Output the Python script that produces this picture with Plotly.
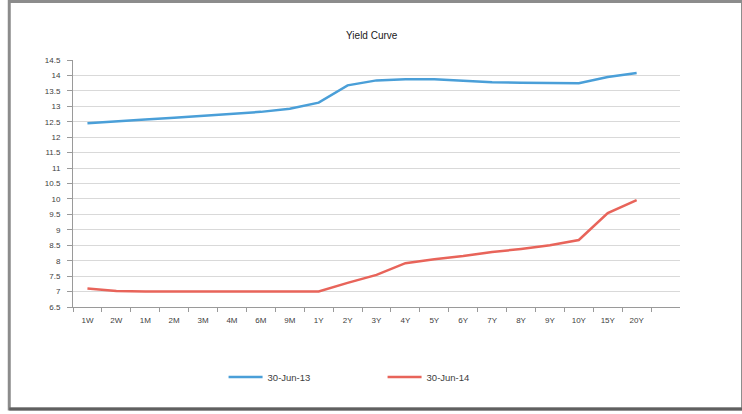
import plotly.graph_objects as go

tenors = ["1W", "2W", "1M", "2M", "3M", "4M", "6M", "9M", "1Y", "2Y", "3Y",
          "4Y", "5Y", "6Y", "7Y", "8Y", "9Y", "10Y", "15Y", "20Y"]
series_a_name = "30-Jun-13"
series_a = [12.45, 12.5, 12.57, 12.63, 12.7, 12.75, 12.82, 12.92, 13.12, 13.68, 13.84,
            13.88, 13.88, 13.83, 13.78, 13.76, 13.76, 13.75, 13.95, 14.08]
series_b_name = "30-Jun-14"
series_b = [7.1, 7.02, 7.0, 7.0, 7.0, 7.0, 7.0, 7.0, 7.0, 7.28, 7.54,
            7.92, 8.05, 8.15, 8.28, 8.38, 8.5, 8.67, 9.54, 9.96]
y_ticks = [6.5 + 0.5 * i for i in range(17)]

categories = tenors + [" "]

fig = go.Figure()
fig.add_trace(go.Scatter(x=tenors, y=series_a, mode="lines", name=series_a_name,
                         line=dict(color="#4A9FD8", width=2.5)))
fig.add_trace(go.Scatter(x=tenors, y=series_b, mode="lines", name=series_b_name,
                         line=dict(color="#E8645A", width=2.5)))

fig.update_layout(
    width=742, height=414,
    margin=dict(l=73, r=62, t=60, b=107),
    paper_bgcolor="white", plot_bgcolor="white",
    font=dict(family="Liberation Sans, Arial", size=8, color="#404040"),
    title=dict(text="Yield Curve", x=0.501, xanchor="center", y=1 - 35 / 414,
               yanchor="middle", font=dict(size=10, color="#202020")),
    legend=dict(orientation="h", x=0.51, xanchor="center", y=-0.283, yanchor="middle",
                font=dict(size=9.5), itemwidth=34, entrywidth=110, tracegroupgap=0),
    showlegend=True,
)
fig.update_xaxes(type="category", categoryorder="array", categoryarray=categories,
                 range=[-0.5, len(categories) - 0.5], tickvals=tenors,
                 showgrid=False, showline=True, linecolor="#9a9a9a", linewidth=1,
                 ticks="outside", ticklen=4, tickcolor="#9a9a9a", tickson="boundaries",
                 tickangle=0, tickfont=dict(size=8), ticklabelstandoff=5)
fig.update_yaxes(range=[6.5, 14.5], tickvals=y_ticks, showgrid=True,
                 gridcolor="#d9d9d9", gridwidth=1, showline=True, linecolor="#9a9a9a",
                 ticks="outside", ticklen=5, tickcolor="#9a9a9a", zeroline=False,
                 tickfont=dict(size=8), ticklabelstandoff=5)

fig.add_shape(type="rect", xref="paper", yref="paper", x0=-0.105, x1=1.103,
              y0=-0.413, y1=1.237, line=dict(color="#8c8c8c", width=3), layer="below")
fig.add_shape(type="line", xref="paper", yref="paper", x0=-0.105, x1=1.103,
              y0=-0.413, y1=-0.413, line=dict(color="#606060", width=3))

fig.write_html("out.html")
